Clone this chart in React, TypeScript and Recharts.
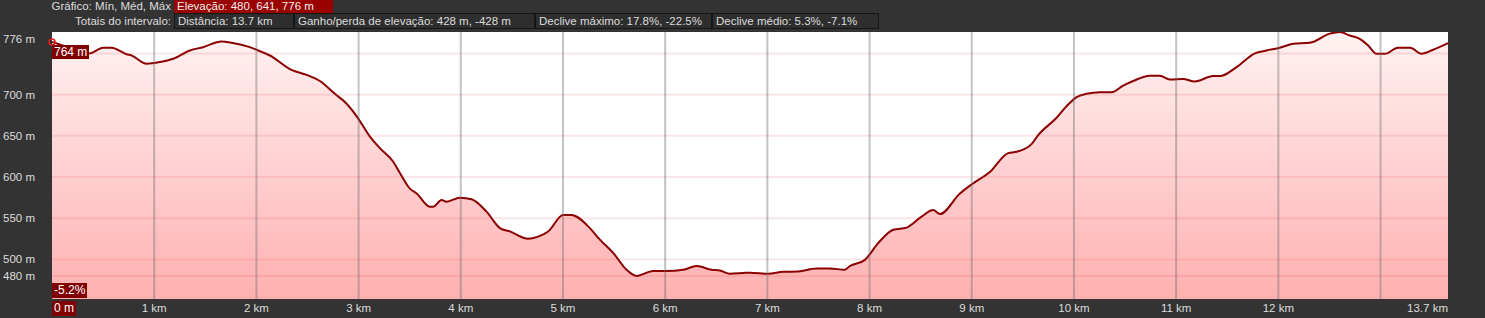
import React from 'react';
import { ComposedChart, Area, XAxis, YAxis, CartesianGrid, ReferenceLine, ReferenceDot } from 'recharts';

// perfil de elevação (km, m)
const distanceKm = [
  0, 0.175, 0.364, 0.501, 0.583, 0.73, 0.779, 0.926, 1.056, 1.186, 1.349, 1.479, 1.659, 1.757, 1.936, 2.018,
  2.132, 2.344, 2.491, 2.621, 2.768, 2.866, 2.98, 3.111, 3.208, 3.339, 3.404, 3.502, 3.568, 3.698, 3.73, 3.812,
  3.861, 3.991, 4.106, 4.252, 4.383, 4.48, 4.66, 4.757, 4.855, 5.002, 5.084, 5.263, 5.361, 5.491, 5.622, 5.72,
  5.883, 6.013, 6.176, 6.307, 6.454, 6.535, 6.633, 6.763, 6.829, 7.008, 7.155, 7.301, 7.481, 7.611, 7.758, 7.807,
  7.954, 8.084, 8.231, 8.362, 8.509, 8.622, 8.688, 8.884, 8.998, 9.177, 9.356, 9.438, 9.585, 9.65, 9.83, 9.928,
  10.026, 10.123, 10.254, 10.368, 10.482, 10.579, 10.743, 10.84, 10.938, 11.068, 11.183, 11.362, 11.428, 11.591,
  11.77, 11.885, 12.015, 12.145, 12.308, 12.504, 12.602, 12.7, 12.797, 12.879, 12.961, 13.042, 13.172, 13.289,
  13.401, 13.515, 13.66,
];
const elevationM = [
  764, 757, 750, 757, 757, 749, 747.5, 737.5, 739.5, 743.5, 753.6, 757.6, 764.5, 763, 757.6, 753.6,
  747.5, 730, 724, 716.5, 701, 691, 674, 649, 635, 618.5, 605, 586, 580, 564, 564, 572,
  570, 575, 573, 558, 538, 534, 525, 527.7, 534, 554, 554, 538, 524, 508, 487.5, 480,
  486, 486, 487.5, 492, 487.5, 486.6, 482.6, 483.5, 484, 482.6, 485, 485.4, 489, 489, 487.5, 492,
  499.5, 519.8, 536, 538.6, 552, 560, 555, 580, 591, 606, 629, 630.6, 640, 650.8, 672, 686,
  697, 701, 703, 703, 711, 716.5, 723, 723, 718.5, 719, 716, 722.5, 722.5, 733.4,
  750, 753.6, 757, 761.7, 763, 774, 776, 771.7, 767.7, 759.6, 749.6, 749.6, 757, 757,
  749.6, 754.4, 762.4,
];

const totalKm = 13.66;
const xTicks = [1, 2, 3, 4, 5, 6, 7, 8, 9, 10, 11, 12, 13.66];
const xTickLabels = ['1 km', '2 km', '3 km', '4 km', '5 km', '6 km', '7 km', '8 km', '9 km', '10 km', '11 km', '12 km', '13.7 km'];
const xGrid = [1, 2, 3, 4, 5, 6, 7, 8, 9, 10, 11, 12, 13];
const yTicks = [480, 500, 550, 600, 650, 700, 776];
const yGrid = [480, 500, 550, 600, 650, 700, 750];

const headerStats = [
  { label: 'Distância: 13.7 km', left: 174, width: 120 },
  { label: 'Ganho/perda de elevação: 428 m, -428 m', left: 294, width: 241 },
  { label: 'Declive máximo: 17.8%, -22.5%', left: 535, width: 177 },
  { label: 'Declive médio: 5.3%, -7.1%', left: 712, width: 167 },
];

const data = distanceKm.map((km, i) => ({ km, elev: elevationM[i] }));

const FONT = '"Liberation Sans", Arial, sans-serif';

function YTick({ y, payload }: any) {
  const shift = payload.value === 776 ? 7 : 0;
  return (
    <text x={35} y={y + shift} dy="0.35em" textAnchor="end" fill="#ddd" fontSize={11.5} fontFamily={FONT}>
      {payload.value} m
    </text>
  );
}

function XTick({ x, payload, index }: any) {
  const last = payload.value === totalKm;
  return (
    <text x={x} y={308} dy="0.35em" textAnchor={last ? 'end' : 'middle'} fill="#ddd" fontSize={11.5} fontFamily={FONT}>
      {xTickLabels[index]}
    </text>
  );
}

const tag: React.CSSProperties = {
  position: 'absolute',
  background: '#800000',
  color: '#fff',
  fontSize: 12,
  lineHeight: '14px',
  padding: '0 2px',
  whiteSpace: 'nowrap',
};

const box: React.CSSProperties = {
  position: 'absolute',
  top: 13,
  height: 16,
  boxSizing: 'border-box',
  border: '1px solid #151515',
  background: '#2e2e2e',
  color: '#ddd',
  fontSize: 11.5,
  lineHeight: '14px',
  paddingLeft: 3,
  whiteSpace: 'nowrap',
};

export default function App() {
  return (
    <div style={{ position: 'absolute', left: 0, top: 0, width: 1485, height: 318, background: '#333', fontFamily: FONT, overflow: 'hidden' }}>
      <div style={{ position: 'absolute', right: 1485 - 171, top: -1, color: '#ddd', fontSize: 11.5, lineHeight: '14px', whiteSpace: 'nowrap' }}>
        Gráfico: Mín, Méd, Máx
      </div>
      <div style={{ ...box, top: 0, height: 13, left: 174, width: 159, background: '#9a0000', border: 'none', color: '#eee', lineHeight: '13px' }}>
        Elevação: 480, 641, 776 m
      </div>
      <div style={{ position: 'absolute', right: 1485 - 171, top: 14, color: '#ddd', fontSize: 11.5, lineHeight: '14px', whiteSpace: 'nowrap' }}>
        Totais do intervalo:
      </div>
      {headerStats.map((s) => (
        <div key={s.label} style={{ ...box, left: s.left, width: s.width }}>
          {s.label}
        </div>
      ))}

      <div style={{ position: 'absolute', left: 0, top: 0 }}>
        <ComposedChart width={1485} height={318} data={data} margin={{ top: 32, right: 37, left: 0, bottom: 0 }}>
          <defs>
            <linearGradient id="elevFill" x1="0" y1="0" x2="0" y2="1">
              <stop offset="0%" stopColor="#fff2f2" />
              <stop offset="100%" stopColor="#ffb0b0" />
            </linearGradient>
          </defs>
          <CartesianGrid fill="#fff" horizontal={false} vertical={false} />
          <XAxis
            dataKey="km"
            type="number"
            domain={[0, totalKm]}
            ticks={xTicks}
            tick={<XTick />}
            axisLine={false}
            tickLine={false}
            height={19}
            interval={0}
            allowDataOverflow
          />
          <YAxis
            type="number"
            domain={[452, 776]}
            ticks={yTicks}
            tick={<YTick />}
            axisLine={false}
            tickLine={false}
            width={52}
            interval={0}
            allowDataOverflow
          />
          <Area
            type="monotone"
            dataKey="elev"
            stroke="#8b0000"
            strokeWidth={2}
            fill="url(#elevFill)"
            fillOpacity={1}
            dot={false}
            activeDot={false}
            isAnimationActive={false}
          />
          {yGrid.map((v) => (
            <ReferenceLine key={'h' + v} y={v} stroke="rgba(220,60,60,0.13)" strokeWidth={2} />
          ))}
          {xGrid.map((v) => (
            <ReferenceLine key={'v' + v} x={v} stroke="rgba(110,110,110,0.42)" strokeWidth={2} />
          ))}
          <ReferenceDot x={0} y={764} r={3} fill="none" stroke="#e02020" strokeWidth={1.5} />
        </ComposedChart>
      </div>

      <div style={{ ...tag, left: 52, top: 45, height: 14 }}>764 m</div>
      <div style={{ ...tag, left: 52, top: 283, height: 15 }}>-5.2%</div>
      <div style={{ ...tag, left: 52, top: 301, height: 15 }}>0 m</div>
    </div>
  );
}
